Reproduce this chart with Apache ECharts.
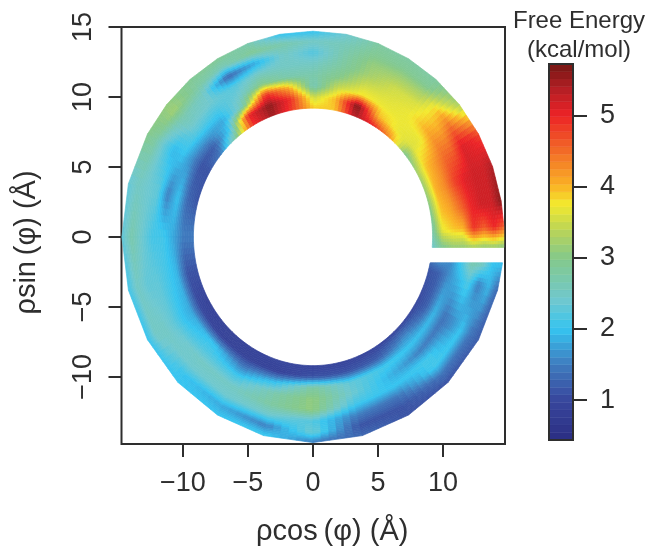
<!DOCTYPE html>
<html>
<head>
<meta charset="utf-8">
<style>html,body{margin:0;padding:0;background:#fff}#main{width:647px;height:548px}</style>
<script src="https://cdn.jsdelivr.net/npm/echarts@6/dist/echarts.min.js"></script>
</head>
<body>
<div id="main"></div>
<script>
// axis ticks
const xTicks = [-10, -5, 0, 5, 10];
const yTicks = [-10, -5, 0, 5, 10, 15];
const barTicks = [1, 2, 3, 4, 5];

// polar sampling of the map, degrees and angstrom
const phi = [-4, 3, 10, 20, 30, 40, 50, 60, 70, 80, 90, 100, 110, 120, 130, 140, 150, 165, 180, 195, 210, 225, 240, 255, 270, 285, 300, 315, 330, 345, 353];
const rho = [9.2, 10, 10.8, 11.6, 12.4, 13.2, 14, 14.7];

// free energy: one row per phi, inner to outer rho
const energy = [
  [2.4, 2.9, 3.1, 3.1, 3.2, 3.1, 3.1, 3.0],
  [2.7, 3.7, 3.9, 4.0, 4.9, 4.6, 5.0, 4.6],
  [2.9, 3.9, 4.1, 4.5, 5.0, 5.2, 5.2, 5.6],
  [3.1, 4.0, 4.3, 4.8, 5.1, 5.2, 5.2, 5.4],
  [3.2, 3.9, 4.2, 4.5, 4.6, 5.1, 5.0, 4.8],
  [2.9, 3.6, 3.7, 4.1, 4.0, 4.2, 3.7, 3.3],
  [4.2, 3.7, 3.7, 3.7, 3.6, 3.3, 2.9, 2.8],
  [5.0, 4.0, 3.7, 3.6, 3.5, 3.2, 2.9, 2.8],
  [5.4, 5.7, 3.8, 3.5, 3.2, 3.1, 2.9, 2.8],
  [3.9, 4.0, 3.5, 3.0, 2.8, 2.7, 2.6, 2.4],
  [3.9, 3.5, 2.6, 2.7, 2.5, 2.2, 2.5, 2.0],
  [4.8, 4.9, 4.1, 2.7, 2.5, 2.5, 2.7, 2.0],
  [5.5, 5.6, 4.9, 3.0, 2.5, 1.8, 2.9, 2.7],
  [4.9, 5.0, 2.7, 2.4, 2.2, 1.3, 2.6, 2.9],
  [2.9, 2.1, 1.8, 2.1, 2.4, 2.5, 2.8, 2.9],
  [1.5, 1.2, 1.7, 2.2, 2.5, 2.7, 3.2, 3.1],
  [1.1, 1.1, 1.6, 2.0, 1.9, 2.3, 2.8, 3.0],
  [1.1, 1.3, 2.0, 1.5, 2.3, 2.4, 2.5, 2.3],
  [1.5, 1.5, 1.8, 2.1, 2.1, 2.4, 2.7, 2.3],
  [1.1, 1.1, 1.9, 2.1, 2.3, 2.3, 2.5, 2.1],
  [0.9, 1.0, 1.8, 2.0, 2.3, 2.5, 2.5, 2.0],
  [0.9, 0.9, 2.0, 2.2, 2.5, 2.4, 2.0, 2.0],
  [0.9, 0.9, 1.5, 2.1, 2.5, 2.4, 1.8, 2.0],
  [1.0, 0.9, 2.0, 2.7, 2.8, 2.4, 1.5, 2.1],
  [0.95, 1.1, 2.8, 3.1, 3.1, 2.2, 2.4, 1.5],
  [0.95, 1.1, 2.3, 2.4, 2.1, 1.5, 1.1, 1.3],
  [0.95, 1.2, 2.1, 1.9, 2.0, 1.4, 1.1, 1.1],
  [0.95, 1.6, 2.0, 1.5, 2.1, 2.1, 1.4, 1.1],
  [1.0, 1.2, 1.9, 1.4, 1.6, 2.0, 1.4, 1.2],
  [1.1, 1.2, 1.6, 1.9, 2.2, 1.5, 1.9, 1.3],
  [1.3, 1.6, 1.6, 2.1, 2.7, 2.6, 2.0, 2.0]
];

// colour key
const colorValues = [0.44, 1, 1.5, 2, 2.4, 3, 3.4, 3.75, 4, 4.5, 5, 5.35, 5.72];
const colorList = ['#2b2e83', '#38479d', '#3f7cbf', '#35c4f0', '#6fc8cf', '#85c98a', '#bcd556', '#f3e92e', '#fab425', '#f26b27', '#ec2226', '#b71f25', '#751714'];
const barMin = 0.44;
const barMax = 5.72;
const barSteps = 50;

// the empty slit on the right, y of its two edges
const slitTop = -0.75;
const slitBottom = -1.85;

const textColor = '#2e2e2e';
const fontName = '"Liberation Sans", Arial, sans-serif';

function energyColor(v) {
  let i = 0;
  while (i < colorValues.length - 2 && v > colorValues[i + 1]) i++;
  let t = (v - colorValues[i]) / (colorValues[i + 1] - colorValues[i]);
  t = Math.max(0, Math.min(1, t));
  return echarts.color.lerp(t, [colorList[i], colorList[i + 1]]);
}

// corner of the map in data coordinates
function corner(i, j) {
  const r = rho[j];
  if (i === 0) return [Math.sqrt(r * r - slitTop * slitTop), slitTop];
  if (i === phi.length - 1) return [Math.sqrt(r * r - slitBottom * slitBottom), slitBottom];
  const a = phi[i] * Math.PI / 180;
  return [r * Math.cos(a), r * Math.sin(a)];
}

function mix(a, b, c, d, s, t) {
  return (a * (1 - s) + b * s) * (1 - t) + (c * (1 - s) + d * s) * t;
}

const cells = [];
for (let i = 0; i < phi.length - 1; i++) {
  for (let j = 0; j < rho.length - 1; j++) {
    cells.push([i, j]);
  }
}

// each cell is shaded from its four corner values
function renderCell(params, api) {
  const i = api.value(0), j = api.value(1);
  const p00 = corner(i, j), p10 = corner(i + 1, j), p01 = corner(i, j + 1), p11 = corner(i + 1, j + 1);
  const e00 = energy[i][j], e10 = energy[i + 1][j], e01 = energy[i][j + 1], e11 = energy[i + 1][j + 1];
  const n = 6;
  const inner = rho[0], outer = rho[rho.length - 1];
  const at = (s, t) => {
    const x = mix(p00[0], p10[0], p01[0], p11[0], s, t);
    const y = mix(p00[1], p10[1], p01[1], p11[1], s, t);
    // inner rim stays round, outer rim keeps its straight chords
    const r = rho[j] + (rho[j + 1] - rho[j]) * t;
    const w = (r - inner) / (outer - inner);
    const k = 1 + (r / Math.sqrt(x * x + y * y) - 1) * (1 - w);
    return api.coord([x * k, y * k]);
  };
  const children = [];
  for (let a = 0; a < n; a++) {
    for (let b = 0; b < n; b++) {
      const s0 = a / n, s1 = (a + 1) / n, t0 = b / n, t1 = (b + 1) / n;
      const c = energyColor(mix(e00, e10, e01, e11, (s0 + s1) / 2, (t0 + t1) / 2));
      children.push({
        type: 'polygon',
        shape: { points: [at(s0, t0), at(s1, t0), at(s1, t1), at(s0, t1)] },
        style: { fill: c, stroke: c, lineWidth: 0.7 },
        silent: true
      });
    }
  }
  return { type: 'group', children: children };
}

const barLevels = [];
for (let k = 0; k < barSteps; k++) {
  barLevels.push([barMin + (barMax - barMin) * k / barSteps, barMin + (barMax - barMin) * (k + 1) / barSteps]);
}

function renderLevel(params, api) {
  const lo = api.coord([0, api.value(0)]);
  const hi = api.coord([1, api.value(1)]);
  const c = energyColor((api.value(0) + api.value(1)) / 2);
  return {
    type: 'rect',
    shape: { x: lo[0], y: hi[1], width: hi[0] - lo[0], height: lo[1] - hi[1] },
    style: { fill: c, stroke: c, lineWidth: 0.5 },
    silent: true
  };
}

function signed(v) {
  return String(v).replace('-', '\u2212');
}

const chart = echarts.init(document.getElementById('main'), null, { renderer: 'canvas' });
chart.setOption({
  animation: false,
  backgroundColor: '#fff',
  title: {
    text: 'Free Energy\n(kcal/mol)',
    left: 574,
    top: 2,
    textAlign: 'center',
    textStyle: { color: textColor, fontFamily: fontName, fontWeight: 'normal', fontSize: 24, lineHeight: 29 }
  },
  grid: [
    { left: 121.5, right: 142, top: 27, bottom: 104, outerBoundsMode: 'none', show: true, borderColor: textColor, borderWidth: 2, backgroundColor: '#fff' },
    { left: 549, width: 24, top: 64, height: 376, outerBoundsMode: 'none', show: true, borderColor: textColor, borderWidth: 2, z: 5 }
  ],
  xAxis: [
    {
      type: 'value', gridIndex: 0, min: -14.73, max: 14.77,
      name: 'ρcos\u2009(φ) (Å)',
      nameLocation: 'middle',
      nameGap: 73,
      nameTextStyle: { color: textColor, fontFamily: fontName, fontSize: 29, padding: [0, 0, 0, 38] },
      axisLine: { show: false, onZero: false },
      splitLine: { show: false },
      axisTick: { length: 13, customValues: xTicks, lineStyle: { color: textColor, width: 2 } },
      axisLabel: { customValues: xTicks, margin: 26, color: textColor, fontFamily: fontName, fontSize: 27, formatter: signed }
    },
    { type: 'value', gridIndex: 1, min: 0, max: 1, show: false }
  ],
  yAxis: [
    {
      type: 'value', gridIndex: 0, min: -14.8, max: 15,
      name: 'ρsin\u2009(φ) (Å)',
      nameLocation: 'middle',
      nameGap: 80,
      nameTextStyle: { color: textColor, fontFamily: fontName, fontSize: 29, padding: [0, 14, 0, 0] },
      axisLine: { show: false, onZero: false },
      splitLine: { show: false },
      axisTick: { length: 13, customValues: yTicks, lineStyle: { color: textColor, width: 2 } },
      axisLabel: { customValues: yTicks, margin: 24, rotate: 90, color: textColor, fontFamily: fontName, fontSize: 27, formatter: signed }
    },
    {
      type: 'value', gridIndex: 1, min: barMin, max: barMax, position: 'right',
      axisLine: { show: false, onZero: false },
      splitLine: { show: false },
      axisTick: { length: 14, customValues: barTicks, lineStyle: { color: textColor, width: 2 } },
      axisLabel: { customValues: barTicks, margin: 27, color: textColor, fontFamily: fontName, fontSize: 27 }
    }
  ],
  series: [
    {
      type: 'custom', xAxisIndex: 0, yAxisIndex: 0,
      coordinateSystem: 'cartesian2d',
      data: cells,
      encode: { x: 0, y: 1 },
      clip: true,
      renderItem: renderCell
    },
    {
      type: 'custom', xAxisIndex: 1, yAxisIndex: 1,
      coordinateSystem: 'cartesian2d',
      data: barLevels,
      encode: { y: [0, 1] },
      renderItem: renderLevel
    }
  ]
});
</script>
</body>
</html>
